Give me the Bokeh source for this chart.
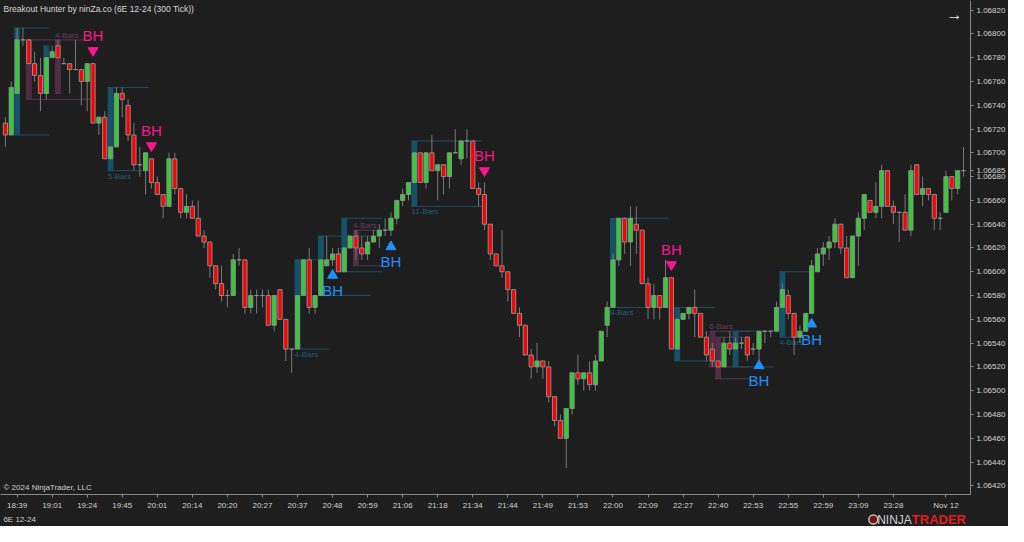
from bokeh.plotting import figure
from bokeh.layouts import column
from bokeh.models import Range1d, FixedTicker, NumeralTickFormatter, Label
from bokeh.core.properties import value
from bokeh.embed import file_html
from bokeh.resources import INLINE

# ---------------- data ----------------
opens = [
    1.06725, 1.06715, 1.06750, 1.06795, 1.06795, 1.06775, 1.06765, 1.06750, 1.06780, 1.06790,
    1.06775, 1.06775, 1.06770, 1.06770, 1.06760, 1.06775, 1.06725, 1.06730, 1.06695, 1.06705,
    1.06750, 1.06740, 1.06715, 1.06690, 1.06685, 1.06695, 1.06675, 1.06665, 1.06655, 1.06695,
    1.06670, 1.06650, 1.06655, 1.06645, 1.06630, 1.06625, 1.06605, 1.06590, 1.06580, 1.06580,
    1.06610, 1.06610, 1.06570, 1.06580, 1.06580, 1.06580, 1.06555, 1.06585, 1.06560, 1.06535,
    1.06535, 1.06580, 1.06610, 1.06570, 1.06580, 1.06605, 1.06610, 1.06615, 1.06600, 1.06620,
    1.06630, 1.06620, 1.06615, 1.06625, 1.06630, 1.06635, 1.06635, 1.06645, 1.06660, 1.06665,
    1.06675, 1.06700, 1.06675, 1.06700, 1.06685, 1.06690, 1.06680, 1.06700, 1.06695, 1.06710,
    1.06710, 1.06670, 1.06665, 1.06640, 1.06615, 1.06605, 1.06600, 1.06585, 1.06565, 1.06555,
    1.06530, 1.06520, 1.06525, 1.06520, 1.06495, 1.06475, 1.06460, 1.06485, 1.06515, 1.06510,
    1.06515, 1.06505, 1.06525, 1.06555, 1.06570, 1.06610, 1.06645, 1.06625, 1.06640, 1.06635,
    1.06590, 1.06570, 1.06580, 1.06570, 1.06595, 1.06535, 1.06560, 1.06565, 1.06570, 1.06565,
    1.06545, 1.06535, 1.06525, 1.06520, 1.06540, 1.06535, 1.06540, 1.06545, 1.06535, 1.06535,
    1.06550, 1.06550, 1.06550, 1.06570, 1.06580, 1.06565, 1.06545, 1.06550, 1.06565, 1.06600,
    1.06615, 1.06620, 1.06625, 1.06640, 1.06620, 1.06595, 1.06630, 1.06645, 1.06660, 1.06650,
    1.06655, 1.06685, 1.06655, 1.06650, 1.06650, 1.06635, 1.06690, 1.06665, 1.06670, 1.06665,
    1.06645, 1.06650, 1.06680, 1.06670, 1.06685,
]
highs = [
    1.06730, 1.06760, 1.06805, 1.06805, 1.06795, 1.06785, 1.06780, 1.06780, 1.06790, 1.06795,
    1.06780, 1.06775, 1.06795, 1.06770, 1.06775, 1.06775, 1.06730, 1.06735, 1.06705, 1.06755,
    1.06755, 1.06745, 1.06725, 1.06705, 1.06700, 1.06695, 1.06680, 1.06665, 1.06700, 1.06700,
    1.06670, 1.06665, 1.06660, 1.06660, 1.06635, 1.06625, 1.06605, 1.06605, 1.06585, 1.06615,
    1.06620, 1.06610, 1.06585, 1.06585, 1.06585, 1.06585, 1.06580, 1.06585, 1.06560, 1.06535,
    1.06580, 1.06610, 1.06620, 1.06580, 1.06610, 1.06630, 1.06620, 1.06620, 1.06620, 1.06630,
    1.06635, 1.06630, 1.06630, 1.06635, 1.06640, 1.06645, 1.06650, 1.06660, 1.06670, 1.06675,
    1.06700, 1.06700, 1.06700, 1.06715, 1.06690, 1.06690, 1.06700, 1.06720, 1.06710, 1.06720,
    1.06710, 1.06675, 1.06675, 1.06640, 1.06615, 1.06635, 1.06600, 1.06585, 1.06570, 1.06555,
    1.06535, 1.06540, 1.06525, 1.06525, 1.06495, 1.06480, 1.06485, 1.06515, 1.06530, 1.06515,
    1.06525, 1.06530, 1.06550, 1.06575, 1.06615, 1.06645, 1.06645, 1.06655, 1.06655, 1.06635,
    1.06595, 1.06590, 1.06580, 1.06610, 1.06595, 1.06560, 1.06565, 1.06570, 1.06585, 1.06565,
    1.06550, 1.06540, 1.06525, 1.06545, 1.06550, 1.06545, 1.06545, 1.06545, 1.06540, 1.06550,
    1.06550, 1.06550, 1.06575, 1.06590, 1.06585, 1.06565, 1.06555, 1.06565, 1.06610, 1.06620,
    1.06625, 1.06630, 1.06645, 1.06640, 1.06630, 1.06630, 1.06650, 1.06665, 1.06660, 1.06675,
    1.06690, 1.06685, 1.06660, 1.06650, 1.06665, 1.06690, 1.06690, 1.06680, 1.06670, 1.06665,
    1.06650, 1.06685, 1.06680, 1.06685, 1.06705,
]
lows = [
    1.06705, 1.06715, 1.06750, 1.06790, 1.06775, 1.06760, 1.06735, 1.06745, 1.06780, 1.06780,
    1.06775, 1.06750, 1.06770, 1.06740, 1.06735, 1.06725, 1.06715, 1.06695, 1.06695, 1.06705,
    1.06730, 1.06710, 1.06685, 1.06680, 1.06665, 1.06670, 1.06665, 1.06645, 1.06655, 1.06665,
    1.06645, 1.06645, 1.06645, 1.06630, 1.06620, 1.06595, 1.06585, 1.06575, 1.06570, 1.06580,
    1.06605, 1.06565, 1.06565, 1.06565, 1.06570, 1.06555, 1.06550, 1.06560, 1.06525, 1.06515,
    1.06535, 1.06580, 1.06565, 1.06565, 1.06580, 1.06605, 1.06605, 1.06600, 1.06600, 1.06620,
    1.06610, 1.06610, 1.06610, 1.06625, 1.06620, 1.06630, 1.06630, 1.06640, 1.06655, 1.06660,
    1.06675, 1.06675, 1.06670, 1.06685, 1.06660, 1.06665, 1.06670, 1.06700, 1.06690, 1.06695,
    1.06670, 1.06655, 1.06635, 1.06610, 1.06605, 1.06595, 1.06575, 1.06565, 1.06545, 1.06530,
    1.06510, 1.06515, 1.06510, 1.06490, 1.06470, 1.06460, 1.06435, 1.06480, 1.06505, 1.06500,
    1.06500, 1.06500, 1.06525, 1.06545, 1.06570, 1.06605, 1.06615, 1.06605, 1.06615, 1.06590,
    1.06560, 1.06560, 1.06560, 1.06570, 1.06535, 1.06535, 1.06560, 1.06560, 1.06545, 1.06545,
    1.06525, 1.06520, 1.06520, 1.06520, 1.06530, 1.06535, 1.06535, 1.06525, 1.06530, 1.06525,
    1.06540, 1.06545, 1.06550, 1.06570, 1.06560, 1.06530, 1.06540, 1.06550, 1.06565, 1.06600,
    1.06605, 1.06610, 1.06620, 1.06615, 1.06595, 1.06595, 1.06605, 1.06635, 1.06650, 1.06645,
    1.06645, 1.06655, 1.06640, 1.06625, 1.06635, 1.06630, 1.06665, 1.06655, 1.06660, 1.06635,
    1.06635, 1.06650, 1.06660, 1.06665, 1.06680,
]
closes = [
    1.06715, 1.06755, 1.06795, 1.06795, 1.06775, 1.06765, 1.06750, 1.06780, 1.06785, 1.06780,
    1.06775, 1.06770, 1.06770, 1.06760, 1.06775, 1.06725, 1.06730, 1.06695, 1.06705, 1.06750,
    1.06745, 1.06715, 1.06690, 1.06690, 1.06700, 1.06675, 1.06665, 1.06655, 1.06695, 1.06670,
    1.06650, 1.06655, 1.06645, 1.06630, 1.06625, 1.06605, 1.06590, 1.06580, 1.06580, 1.06610,
    1.06610, 1.06570, 1.06580, 1.06580, 1.06580, 1.06555, 1.06580, 1.06560, 1.06535, 1.06535,
    1.06580, 1.06610, 1.06570, 1.06580, 1.06610, 1.06610, 1.06615, 1.06600, 1.06620, 1.06630,
    1.06620, 1.06615, 1.06625, 1.06630, 1.06635, 1.06635, 1.06645, 1.06660, 1.06665, 1.06675,
    1.06700, 1.06675, 1.06700, 1.06685, 1.06690, 1.06680, 1.06700, 1.06700, 1.06710, 1.06710,
    1.06670, 1.06665, 1.06640, 1.06615, 1.06605, 1.06600, 1.06585, 1.06565, 1.06555, 1.06530,
    1.06520, 1.06525, 1.06520, 1.06495, 1.06475, 1.06460, 1.06485, 1.06515, 1.06510, 1.06515,
    1.06505, 1.06525, 1.06550, 1.06570, 1.06610, 1.06645, 1.06625, 1.06645, 1.06635, 1.06590,
    1.06570, 1.06580, 1.06570, 1.06595, 1.06535, 1.06560, 1.06565, 1.06570, 1.06565, 1.06545,
    1.06530, 1.06525, 1.06520, 1.06540, 1.06535, 1.06540, 1.06540, 1.06530, 1.06535, 1.06550,
    1.06550, 1.06550, 1.06570, 1.06585, 1.06565, 1.06545, 1.06550, 1.06565, 1.06605, 1.06615,
    1.06620, 1.06625, 1.06640, 1.06620, 1.06595, 1.06630, 1.06645, 1.06665, 1.06650, 1.06655,
    1.06685, 1.06655, 1.06650, 1.06650, 1.06635, 1.06685, 1.06665, 1.06670, 1.06665, 1.06645,
    1.06645, 1.06680, 1.06670, 1.06685, 1.06685,
]

tick_bars = [2, 8, 14, 20, 26, 32, 38, 44, 50, 56, 62, 68, 74, 80, 86, 92, 98,
             104, 110, 116, 122, 128, 134, 140, 146, 152, 161]
tick_labels = ["18:39", "19:01", "19:24", "19:45", "20:01", "20:14", "20:20", "20:27",
               "20:37", "20:48", "20:59", "21:06", "21:18", "21:34", "21:44", "21:49",
               "21:53", "22:00", "22:09", "22:27", "22:40", "22:53", "22:55", "22:59",
               "23:09", "23:28", "Nov 12"]
price_ticks = [1.06420, 1.06440, 1.06460, 1.06480, 1.06500, 1.06520, 1.06540, 1.06560,
               1.06580, 1.06600, 1.06620, 1.06640, 1.06660, 1.06680, 1.06700, 1.06720,
               1.06740, 1.06760, 1.06780, 1.06800, 1.06820]
last_price = 1.06685

bh_down_bar = [15, 25, 82, 114]
bh_down_price = [1.06786, 1.06706, 1.06685, 1.06606]
bh_up_bar = [56, 66, 129, 138]
bh_up_price = [1.06597, 1.06621, 1.06521, 1.06556]

box_start = [2, 4, 7, 9, 18, 50, 54, 58, 60, 70, 104, 115, 121, 122, 125, 133]
box_end = [7, 14, 7, 9, 24, 55, 62, 64, 64, 81, 113, 121, 127, 127, 131, 137]
box_top = [1.06805, 1.06795, 1.06790, 1.06795, 1.06755, 1.06610, 1.06630, 1.06645,
           1.06635, 1.06710, 1.06645, 1.06570, 1.06550, 1.06545, 1.06550, 1.06600]
box_bottom = [1.06715, 1.06745, 1.06750, 1.06750, 1.06685, 1.06535, 1.06580, 1.06600,
              1.06605, 1.06655, 1.06570, 1.06525, 1.06520, 1.06510, 1.06520, 1.06545]
box_dir = ["up", "down", "up", "down", "up", "up", "up", "up",
           "down", "up", "up", "up", "down", "down", "up", "up"]
box_label = ["", "", "", "4-Bars", "5-Bars", "4-Bars", "", "", "4-Bars", "11-Bars",
             "8-Bars", "", "6-Bars", "", "", "4-Bars"]

title_text = "Breakout Hunter by ninZa.co (6E 12-24 (300 Tick))"
copyright_text = "© 2024 NinjaTrader, LLC"
instrument_text = "6E 12-24"
logo_parts = ["NINJA", "TRADER"]

# ---------------- styling ----------------
BG = "#1e1e1e"
FONT = "Liberation Sans"
UP_C, DN_C, DOJI_C = "#32cd32", "#ff0000", "#8c8c8c"
WICK_C = "#7a7a7a"
CY_FILL, CY_LINE, CY_TXT = "#145a74", "#1e5166", "#1f5f7d"
MG_FILL, MG_LINE, MG_TXT = "#5a2f4a", "#5a3552", "#6a3a5f"
PINK, BLUE = "#ff1493", "#1e90ff"

W = 1008
FOOT_H = 14
n = len(opens)
idx = list(range(n))
X0, X1 = -0.84, 165.2
Y0, Y1 = 1.064127, 1.068281

fig = figure(width=W, height=526 - FOOT_H, x_range=Range1d(X0, X1), y_range=Range1d(Y0, Y1),
             output_backend="svg", toolbar_location=None, y_axis_location="right",
             background_fill_color=BG, border_fill_color=BG,
             min_border_left=0, min_border_top=0, min_border_right=33, min_border_bottom=14)
fig.grid.visible = False
fig.outline_line_color = None

yax = fig.yaxis[0]
yax.ticker = FixedTicker(ticks=price_ticks + [last_price])
yax.formatter = NumeralTickFormatter(format="0.00000")
xax = fig.xaxis[0]
xax.ticker = FixedTicker(ticks=tick_bars)
xax.major_label_overrides = {b: l for b, l in zip(tick_bars, tick_labels)}
for ax in (xax, yax):
    ax.axis_line_color = "#8a8a8a"
    ax.major_tick_line_color = "#8a8a8a"
    ax.minor_tick_line_color = None
    ax.major_tick_in = 0
    ax.major_tick_out = 3
    ax.major_label_text_color = "#d2d2d2"
    ax.major_label_text_font = FONT
    ax.major_label_text_font_size = "8px"
    ax.major_label_standoff = 3

# ---------------- breakout boxes ----------------
box_l = [s - 0.5 for s in box_start]
fill_r = [s + 0.5 for s in box_start]
line_r = [e + 0.5 for e in box_end]
fcol = [CY_FILL if d == "up" else MG_FILL for d in box_dir]
lcol = [CY_LINE if d == "up" else MG_LINE for d in box_dir]
fig.quad(left=box_l, right=fill_r, top=box_top, bottom=box_bottom,
         fill_color=fcol, fill_alpha=0.85, line_color=None)
fig.segment(x0=box_l, y0=box_top, x1=line_r, y1=box_top, line_color=lcol, line_width=1)
fig.segment(x0=box_l, y0=box_bottom, x1=line_r, y1=box_bottom, line_color=lcol, line_width=1)

up_lab = [(b, y, t) for b, y, t, d in zip(box_l, box_bottom, box_label, box_dir) if t and d == "up"]
dn_lab = [(b, y, t) for b, y, t, d in zip(box_l, box_top, box_label, box_dir) if t and d == "down"]
fig.text(x=[a[0] for a in up_lab], y=[a[1] for a in up_lab], text=[a[2] for a in up_lab],
         text_color=CY_TXT, text_font=value(FONT), text_font_size="8px",
         text_align="left", text_baseline="top", y_offset=1)
fig.text(x=[a[0] for a in dn_lab], y=[a[1] for a in dn_lab], text=[a[2] for a in dn_lab],
         text_color=MG_TXT, text_font=value(FONT), text_font_size="8px",
         text_align="left", text_baseline="bottom", y_offset=0)

# ---------------- candles ----------------
body_top = [max(o, c) for o, c in zip(opens, closes)]
body_bot = [min(o, c) for o, c in zip(opens, closes)]
body_col = [UP_C if c > o else (DN_C if c < o else DOJI_C) for o, c in zip(opens, closes)]
fig.segment(x0=idx, y0=lows, x1=idx, y1=highs, line_color=WICK_C, line_width=1)
fig.vbar(x=idx, width=0.72, top=body_top, bottom=body_bot, fill_color=body_col,
         line_color="#8c8c8c", line_width=1)

# ---------------- BH signals ----------------
fig.scatter(x=bh_down_bar, y=bh_down_price, marker="inverted_triangle", size=10,
            fill_color=PINK, line_color=PINK)
fig.text(x=bh_down_bar, y=bh_down_price, text=["BH"] * len(bh_down_bar), text_color=PINK,
         text_font=value(FONT), text_font_size="15px", text_align="center",
         text_baseline="middle", y_offset=-15)
fig.scatter(x=bh_up_bar, y=bh_up_price, marker="triangle", size=10,
            fill_color=BLUE, line_color=BLUE)
fig.text(x=bh_up_bar, y=bh_up_price, text=["BH"] * len(bh_up_bar), text_color=BLUE,
         text_font=value(FONT), text_font_size="15px", text_align="center",
         text_baseline="middle", y_offset=15)

# ---------------- annotations inside the frame ----------------
fig.add_layout(Label(x=3, y=Y1, x_units="screen", y_offset=-8, text=title_text,
                     text_color="#d8d8d8", text_font=FONT, text_font_size="8.5px",
                     text_baseline="middle"))
fig.add_layout(Label(x=3, y=7, x_units="screen", y_units="screen", text=copyright_text,
                     text_color="#cfcfcf", text_font=FONT, text_font_size="8px",
                     text_baseline="middle"))
fig.add_layout(Label(x=X1, y=Y1, x_offset=-16, y_offset=-14, text="→",
                     text_color="#e6e6e6", text_font=FONT, text_font_size="16px",
                     text_align="center", text_baseline="middle"))

# ---------------- footer strip ----------------
foot = figure(width=W, height=FOOT_H, x_range=Range1d(0, W), y_range=Range1d(0, FOOT_H),
              output_backend="svg", toolbar_location=None,
              x_axis_location=None, y_axis_location=None,
              background_fill_color=BG, border_fill_color=BG,
              min_border_left=0, min_border_right=0, min_border_top=0, min_border_bottom=0)
foot.grid.visible = False
foot.outline_line_color = None
foot.text(x=[3], y=[FOOT_H / 2], text=[instrument_text], text_color="#cfcfcf",
          text_font=value(FONT), text_font_size="8px", text_align="left",
          text_baseline="middle")
foot.scatter(x=[W - 101], y=[FOOT_H / 2], marker="circle", size=9,
             fill_color="#7a1010", line_color="#c0c0c0", line_width=1.5)
foot.text(x=[W - 61], y=[FOOT_H / 2], text=[logo_parts[0]], text_color="#d0d0d0",
          text_font=value(FONT), text_font_size="12px", text_align="right",
          text_baseline="middle")
foot.text(x=[W - 61], y=[FOOT_H / 2], text=[logo_parts[1]], text_color="#e0201e",
          text_font=value(FONT), text_font_size="13px", text_font_style="bold",
          text_align="left", text_baseline="middle")

p = column(fig, foot, spacing=0, styles={"background-color": BG})
open("out.html", "w").write(file_html(p, INLINE))
